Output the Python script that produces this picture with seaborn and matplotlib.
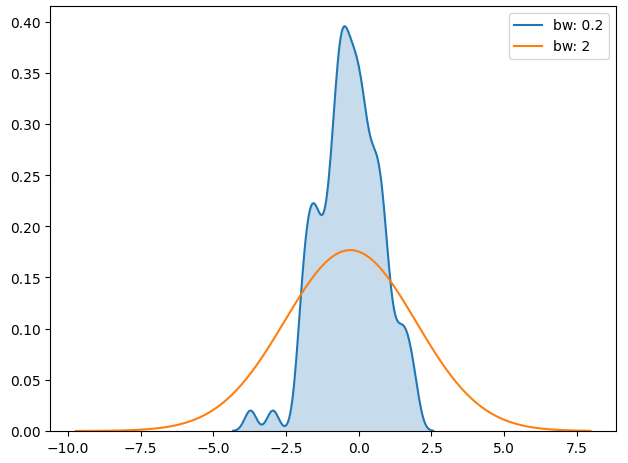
import numpy as np
import matplotlib
matplotlib.use("Agg")
import matplotlib.pyplot as plt
import seaborn as sns

# sample values
outliers = [-3.72, -2.95]
core = [-2.082, -2.001, -1.938, -1.885, -1.834, -1.788, -1.743, -1.700, -1.656, -1.614,
        -1.573, -1.532, -1.493, -1.454, -1.410, -1.365, -1.311, -1.253, -1.196, -1.141,
        -1.092, -1.044, -1.000, -0.957, -0.919, -0.883, -0.847, -0.818, -0.788, -0.759,
        -0.733, -0.709, -0.685, -0.662, -0.638, -0.616, -0.593, -0.571, -0.548, -0.524,
        -0.501, -0.477, -0.453, -0.427, -0.401, -0.375, -0.348, -0.322, -0.295, -0.268,
        -0.241, -0.215, -0.188, -0.162, -0.135, -0.109, -0.083, -0.056, -0.029, -0.002,
        0.026, 0.053, 0.081, 0.109, 0.136, 0.165, 0.194, 0.223, 0.253, 0.290,
        0.327, 0.366, 0.408, 0.449, 0.486, 0.522, 0.557, 0.591, 0.624, 0.658,
        0.694, 0.730, 0.766, 0.802, 0.838, 0.879, 0.921, 0.973, 1.043, 1.125,
        1.228, 1.352, 1.450, 1.528, 1.611, 1.710, 1.820, 1.960]
bandwidths = [0.2, 2]

data = np.array(outliers + core)
sd = np.std(data, ddof=1)

fig, ax = plt.subplots(figsize=(6.28, 4.64), dpi=100)
fig.subplots_adjust(left=0.08, right=0.981, top=0.985, bottom=0.069)

# bw: 0.2 -> filled
sns.kdeplot(x=data, bw_method=bandwidths[0] / sd, fill=True, color="C0",
            linewidth=0, alpha=0.25, ax=ax)
sns.kdeplot(x=data, bw_method=bandwidths[0] / sd, color="C0",
            label="bw: %s" % bandwidths[0], ax=ax)
# bw: 2
sns.kdeplot(x=data, bw_method=bandwidths[1] / sd, color="C1",
            label="bw: %s" % bandwidths[1], ax=ax)

ax.set_xlabel("")
ax.set_ylabel("")
ax.legend(loc="upper right")

fig.savefig("out.png")
